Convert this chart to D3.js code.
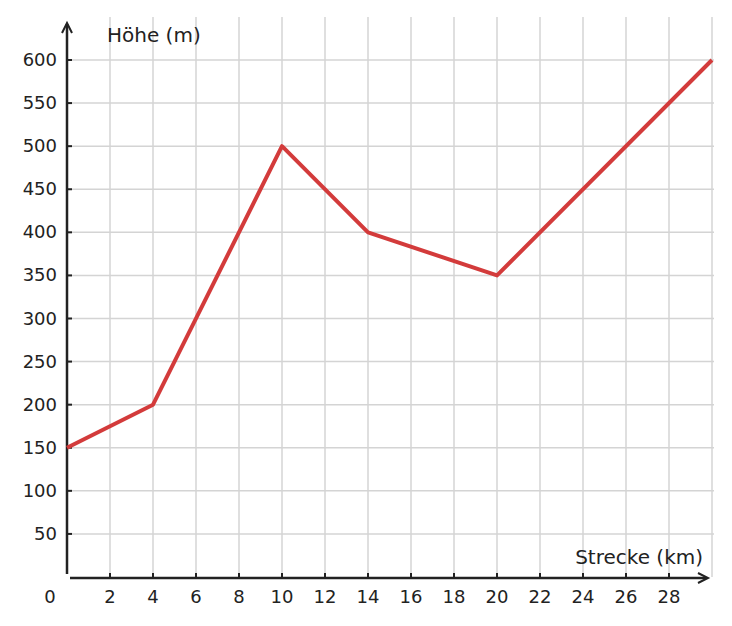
<!DOCTYPE html><html><head><meta charset="utf-8"><script src="https://d3js.org/d3.v7.min.js"></script>
<style>body{margin:0;background:#fff}text{font-family:"DejaVu Sans",sans-serif;fill:#222}</style></head><body>
<svg id="c" width="732" height="626"></svg>
<script>
const distKm=[0,4,10,14,20,30];
const heightM=[150,200,500,400,350,600];
const xTicks=[2,4,6,8,10,12,14,16,18,20,22,24,26,28];
const yTicks=[50,100,150,200,250,300,350,400,450,500,550,600];
const svg=d3.select("#c");
const x=d3.scaleLinear().domain([0,30]).range([67,712]);
const y=d3.scaleLinear().domain([0,600]).range([577,60]);
const g=svg.append("g");
g.selectAll(".vg").data(xTicks.concat([30])).join("line").attr("x1",d=>x(d)).attr("x2",d=>x(d)).attr("y1",17).attr("y2",577).attr("stroke","#d4d4d4").attr("stroke-width",1.5);
g.selectAll(".hg").data(yTicks).join("line").attr("x1",67).attr("x2",714).attr("y1",d=>y(d)).attr("y2",d=>y(d)).attr("stroke","#d4d4d4").attr("stroke-width",1.5);
// axes
svg.append("line").attr("x1",67).attr("x2",67).attr("y1",574).attr("y2",24).attr("stroke","#222").attr("stroke-width",2.5);
svg.append("path").attr("d","M62,33 L67,23 L72,33").attr("fill","none").attr("stroke","#222").attr("stroke-width",2);
svg.append("line").attr("x1",70).attr("x2",706).attr("y1",578).attr("y2",578).attr("stroke","#222").attr("stroke-width",2.5);
svg.append("path").attr("d","M698,573 L708,578 L698,583").attr("fill","none").attr("stroke","#222").attr("stroke-width",2);
svg.selectAll(".xt").data(xTicks).join("line").attr("x1",d=>x(d)).attr("x2",d=>x(d)).attr("y1",573).attr("y2",578).attr("stroke","#222").attr("stroke-width",2);
svg.selectAll(".yt").data(yTicks).join("line").attr("x1",67).attr("x2",72).attr("y1",d=>y(d)).attr("y2",d=>y(d)).attr("stroke","#222").attr("stroke-width",2);
svg.selectAll(".xl").data(xTicks).join("text").attr("x",d=>x(d)).attr("y",603).attr("text-anchor","middle").attr("font-size",18).text(d=>d);
svg.selectAll(".yl").data(yTicks).join("text").attr("x",57).attr("y",d=>y(d)+6).attr("text-anchor","end").attr("font-size",18).text(d=>d);
svg.append("text").attr("x",50).attr("y",603).attr("text-anchor","middle").attr("font-size",18).text("0");
svg.append("text").attr("x",107).attr("y",42).attr("font-size",20).text("Höhe (m)");
svg.append("text").attr("x",703).attr("y",564).attr("text-anchor","end").attr("font-size",20).text("Strecke (km)");
const pts=distKm.map((d,i)=>[d,heightM[i]]);
svg.append("path").attr("d",d3.line().x(d=>x(d[0])).y(d=>y(d[1]))(pts)).attr("fill","none").attr("stroke","#d33b3b").attr("stroke-width",4).attr("stroke-linejoin","round");
</script></body></html>
